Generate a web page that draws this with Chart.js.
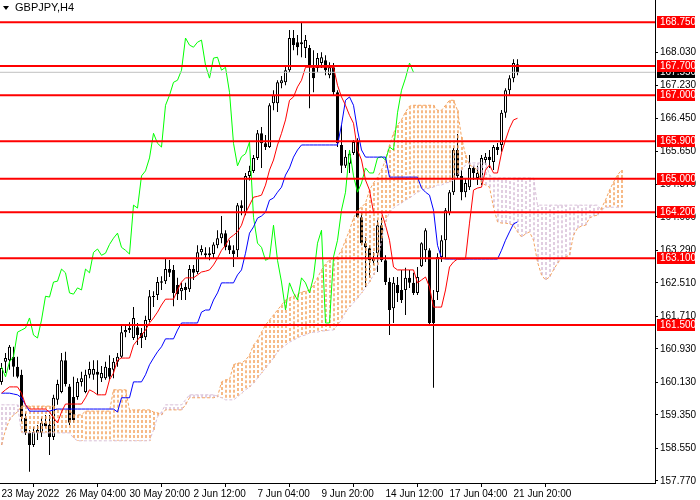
<!DOCTYPE html>
<html>
<head>
<meta charset="utf-8">
<script src="https://cdn.jsdelivr.net/npm/chart.js@4.4.1/dist/chart.umd.min.js"></script>
<style>
  html, body { margin: 0; padding: 0; background: #fff; }
  #wrap { width: 700px; height: 500px; }
</style>
</head>
<body>
<div id="wrap"><canvas id="chart" width="700" height="500"></canvas></div>
<script>
// GBPJPY H4 – candles + ichimoku

const symbolTitle = "GBPJPY,H4";

// one label every 16 bars
const xTickLabels = [
  "23 May 2022", "26 May 04:00", "30 May 20:00", "2 Jun 12:00", "7 Jun 04:00",
  "9 Jun 20:00", "14 Jun 12:00", "17 Jun 04:00", "21 Jun 20:00",
];
const yTickValues = [
  168.03, 167.23, 166.45, 165.65, 164.87, 164.09, 163.29,
  162.51, 161.71, 160.93, 160.13, 159.35, 158.55, 157.77,
];

const levels = [168.75, 167.7, 167.0, 165.9, 165.0, 164.2, 163.1, 161.5];
const bidPrice = 167.55;

const opens = [
  160.14, 160.62, 160.66, 160.74, 160.50, 160.31, 159.28, 158.92, 158.63, 158.92,
  158.92, 159.16, 159.11, 158.82, 159.71, 159.90, 160.66, 160.03, 159.78, 159.78,
  160.14, 159.90, 160.31, 160.31, 160.38, 160.23, 160.23, 160.47, 160.43, 160.62,
  160.74, 161.33, 161.38, 161.19, 161.45, 161.31, 161.21, 161.62, 162.19, 162.22,
  162.51, 162.55, 162.84, 162.82, 162.46, 162.31, 162.41, 162.36, 162.84, 162.77,
  163.24, 163.22, 163.17, 163.20, 163.41, 163.58, 163.70, 163.41, 163.29, 163.29,
  164.37, 164.20, 165.07, 165.19, 165.50, 166.09, 165.85, 165.76, 166.81, 166.81,
  167.29, 167.31, 167.60, 168.37, 168.27, 168.22, 168.13, 168.13, 167.65, 167.65,
  167.77, 167.84, 167.48, 167.67, 167.07, 165.81, 165.31, 165.36, 165.62, 165.88,
  164.08, 163.46, 163.34, 163.03, 163.22, 163.89, 163.05, 162.53, 161.90, 162.46,
  162.34, 162.34, 162.63, 162.51, 162.27, 162.91, 163.29, 163.29, 162.10, 162.29,
  163.13, 163.53, 164.18, 164.68, 165.69, 165.07, 164.68, 164.80, 165.26, 165.02,
  164.97, 165.45, 165.53, 165.40, 165.76, 165.81, 166.58, 167.12, 167.41, 167.74,
];
const highs = [
  160.59, 160.83, 161.02, 160.98, 160.74, 160.43, 159.40, 158.99, 159.06, 159.11,
  159.28, 159.35, 159.35, 159.83, 160.19, 160.83, 160.86, 160.09, 160.26, 160.23,
  160.38, 160.43, 160.62, 160.66, 160.66, 160.52, 160.62, 160.78, 160.71, 160.83,
  161.50, 161.50, 161.57, 161.93, 161.55, 161.43, 161.72, 162.34, 162.31, 162.65,
  162.67, 163.10, 163.06, 162.94, 162.63, 162.51, 162.51, 162.94, 162.94, 163.41,
  163.41, 163.36, 163.36, 163.48, 163.77, 164.11, 163.77, 163.53, 163.41, 164.42,
  164.49, 165.14, 165.31, 165.57, 166.17, 166.24, 166.05, 166.81, 167.12, 167.36,
  167.46, 167.70, 168.56, 168.56, 168.44, 168.73, 168.44, 168.20, 168.08, 168.01,
  168.03, 167.96, 167.79, 167.77, 167.12, 166.29, 165.69, 165.69, 165.93, 165.97,
  164.18, 163.60, 163.41, 163.24, 164.01, 164.08, 163.17, 162.63, 162.65, 162.65,
  162.82, 162.87, 162.82, 162.75, 162.89, 163.48, 163.82, 163.34, 162.34, 163.22,
  163.65, 164.30, 164.73, 165.74, 166.07, 165.21, 165.02, 165.57, 165.31, 165.31,
  165.57, 165.62, 165.69, 165.81, 165.86, 166.65, 167.17, 167.48, 167.86, 167.86,
];
const lows = [
  160.07, 160.35, 160.43, 160.26, 160.23, 159.18, 158.87, 157.99, 158.58, 158.75,
  158.82, 159.04, 158.39, 158.75, 159.59, 159.87, 160.03, 159.11, 159.16, 159.71,
  160.03, 159.87, 160.23, 160.19, 159.83, 160.14, 160.19, 160.19, 160.23, 160.50,
  160.71, 161.21, 161.31, 161.14, 161.02, 160.95, 161.14, 161.57, 161.93, 162.10,
  162.34, 162.48, 162.65, 161.95, 162.10, 162.10, 162.10, 162.29, 162.58, 162.72,
  163.17, 163.10, 163.05, 163.10, 163.34, 163.46, 163.29, 163.20, 162.89, 163.13,
  164.13, 164.13, 164.96, 165.14, 165.45, 165.26, 165.69, 165.74, 166.64, 166.60,
  167.17, 167.24, 167.55, 168.08, 167.96, 167.91, 167.89, 166.69, 167.07, 167.55,
  167.65, 167.48, 167.41, 167.00, 165.76, 165.14, 165.26, 165.14, 165.57, 164.06,
  163.41, 162.41, 162.63, 162.94, 162.77, 163.01, 162.46, 161.26, 161.55, 162.05,
  162.03, 161.74, 162.39, 162.22, 162.22, 162.89, 163.01, 161.50, 160.00, 162.10,
  163.01, 163.10, 164.13, 164.61, 165.02, 164.49, 164.56, 164.73, 164.97, 164.85,
  164.85, 165.33, 165.26, 165.21, 165.57, 165.65, 166.46, 167.00, 167.31, 167.48,
];
const closes = [
  160.47, 160.71, 160.98, 160.50, 160.26, 159.30, 158.92, 158.63, 158.94, 158.99,
  159.16, 159.08, 158.82, 159.76, 160.09, 160.66, 160.09, 159.16, 159.23, 160.14,
  160.23, 160.31, 160.45, 160.45, 160.31, 160.35, 160.50, 160.26, 160.62, 160.74,
  161.33, 161.38, 161.43, 161.67, 161.26, 161.19, 161.62, 162.19, 162.17, 162.53,
  162.55, 162.84, 162.75, 162.27, 162.24, 162.39, 162.34, 162.84, 162.75, 163.24,
  163.32, 163.17, 163.22, 163.43, 163.58, 163.70, 163.36, 163.29, 163.20, 164.37,
  164.30, 165.07, 165.19, 165.50, 166.09, 165.85, 165.76, 166.76, 167.00, 167.31,
  167.36, 167.60, 168.37, 168.20, 168.15, 168.27, 168.32, 167.72, 167.41, 167.89,
  167.91, 167.60, 167.67, 167.07, 165.85, 165.31, 165.53, 165.60, 165.88, 164.08,
  163.46, 163.36, 163.05, 163.10, 163.89, 163.05, 162.53, 161.86, 162.51, 162.27,
  162.10, 162.63, 162.51, 162.27, 162.65, 163.46, 163.77, 161.55, 161.55, 163.13,
  163.53, 164.25, 164.68, 165.69, 165.07, 164.68, 164.90, 165.26, 165.14, 165.14,
  165.50, 165.53, 165.45, 165.76, 165.69, 166.58, 167.12, 167.41, 167.77, 167.55,
];

const tenkan = [
  159.87, 159.95, 160.02, 160.02, 160.02, 159.87, 159.59, 159.49, 159.49, 159.49,
  159.49, 159.49, 159.42, 159.28, 159.16, 159.42, 159.61, 159.61, 159.61, 159.61,
  159.61, 159.76, 159.95, 159.90, 159.83, 159.83, 159.83, 160.19, 160.35, 160.66,
  160.71, 160.71, 160.71, 161.02, 161.14, 161.26, 161.38, 161.55, 161.67, 161.81,
  161.98, 162.12, 162.12, 162.12, 162.34, 162.53, 162.63, 162.63, 162.63, 162.70,
  162.77, 162.79, 162.82, 162.94, 163.10, 163.29, 163.41, 163.58, 163.65, 163.73,
  163.89, 164.18, 164.37, 164.56, 164.58, 164.61, 164.85, 165.21, 165.45, 165.81,
  166.09, 166.41, 166.88, 166.96, 167.20, 167.36, 167.67, 167.67, 167.67, 167.67,
  167.67, 167.67, 167.67, 167.67, 167.24, 166.96, 166.76, 166.52, 166.33, 165.69,
  165.45, 164.97, 164.73, 164.20, 164.20, 164.20, 163.89, 163.53, 162.89, 162.82,
  162.82, 162.82, 162.82, 162.82, 162.51, 162.58, 162.65, 162.41, 161.93, 161.93,
  161.93, 162.34, 162.89, 163.01, 163.08, 163.08, 163.08, 163.94, 164.73, 164.78,
  164.80, 165.21, 165.33, 165.14, 165.14, 165.62, 165.93, 166.21, 166.41, 166.45,
];
const kijun = [
  159.87, 159.87, 159.87, 159.85, 159.83, 159.76, 159.59, 159.44, 159.44, 159.44,
  159.44, 159.44, 159.44, 159.47, 159.49, 159.49, 159.49, 159.49, 159.49, 159.49,
  159.49, 159.49, 159.49, 159.49, 159.49, 159.49, 159.49, 159.49, 159.49, 159.42,
  159.76, 159.76, 159.76, 160.14, 160.14, 160.14, 160.31, 160.55, 160.71, 160.86,
  160.98, 161.17, 161.17, 161.17, 161.38, 161.55, 161.55, 161.55, 161.55, 161.55,
  161.81, 161.86, 161.86, 162.10, 162.27, 162.51, 162.51, 162.51, 162.51, 162.70,
  162.82, 163.22, 163.70, 163.85, 164.06, 164.11, 164.20, 164.49, 164.54, 164.68,
  164.80, 165.09, 165.26, 165.52, 165.69, 165.81, 165.81, 165.81, 165.81, 165.81,
  165.81, 165.81, 165.81, 165.81, 165.81, 166.29, 166.88, 166.96, 166.76, 166.17,
  165.69, 165.52, 165.52, 165.52, 165.52, 165.52, 165.52, 165.04, 165.04, 165.04,
  165.04, 165.04, 165.04, 165.04, 165.04, 164.78, 164.68, 164.61, 164.25, 163.41,
  163.10, 163.08, 163.08, 163.08, 163.08, 163.08, 163.08, 163.08, 163.08, 163.08,
  163.08, 163.08, 163.08, 163.08, 163.08, 163.29, 163.53, 163.73, 163.92, 163.97,
];
// senkou spans run 26 bars past the last candle
const spanA = [
  158.63, 158.99, 159.23, 159.35, 159.42, 159.56, 159.56, 159.56, 159.56, 159.56,
  159.56, 159.56, 159.56, 159.56, 159.47, 159.47, 159.47, 159.47, 159.35, 159.35,
  159.35, 159.44, 159.44, 159.44, 159.44, 159.44, 159.44, 159.44, 159.95, 159.95,
  159.95, 159.95, 159.47, 159.47, 159.47, 159.47, 159.47, 159.47, 159.42, 159.40,
  159.35, 159.47, 159.47, 159.47, 159.47, 159.47, 159.59, 159.76, 159.76, 159.76,
  159.76, 159.76, 159.76, 159.76, 159.78, 160.14, 160.19, 160.19, 160.55, 160.59,
  160.59, 160.66, 160.78, 161.02, 161.14, 161.33, 161.50, 161.62, 161.74, 161.86,
  161.98, 162.10, 162.15, 162.19, 162.24, 162.29, 162.31, 162.34, 162.46, 162.63,
  162.82, 162.96, 163.06, 163.10, 163.13, 163.29, 163.53, 163.77, 164.06, 164.25,
  164.32, 164.42, 164.73, 164.90, 165.04, 165.21, 165.45, 165.81, 166.09, 166.29,
  166.41, 166.60, 166.74, 166.76, 166.76, 166.76, 166.76, 166.76, 166.76, 166.64,
  166.64, 166.76, 166.88, 166.88, 166.64, 166.00, 165.57, 165.33, 165.28, 165.21,
  164.90, 164.85, 164.80, 164.32, 163.97, 163.94, 163.94, 163.92, 163.89, 163.73,
  163.61, 163.68, 163.73, 163.53, 163.01, 162.70, 162.58, 162.65, 162.82, 162.98,
  163.10, 163.13, 163.17, 163.65, 163.82, 163.87, 163.89, 164.06, 164.11, 164.13,
  164.30, 164.49, 164.73, 164.92, 165.09, 165.21,
];
const spanB = [
  159.59, 159.59, 159.59, 159.59, 159.59, 158.92, 158.92, 158.92, 158.92, 158.92,
  158.92, 158.92, 158.92, 158.92, 158.92, 158.92, 158.92, 158.92, 158.80, 158.73,
  158.73, 158.73, 158.73, 158.73, 158.73, 158.73, 158.73, 158.73, 158.73, 158.73,
  158.73, 158.73, 158.73, 158.73, 158.73, 158.73, 158.73, 158.73, 158.99, 159.30,
  159.42, 159.59, 159.59, 159.59, 159.59, 159.59, 159.71, 159.83, 159.83, 159.83,
  159.83, 159.83, 159.83, 159.83, 159.80, 159.76, 159.71, 159.71, 159.71, 159.78,
  159.87, 159.95, 160.02, 160.11, 160.23, 160.35, 160.47, 160.59, 160.71, 160.86,
  160.95, 161.02, 161.09, 161.14, 161.19, 161.24, 161.26, 161.31, 161.33, 161.33,
  161.36, 161.36, 161.38, 161.38, 161.50, 161.62, 161.81, 161.93, 162.03, 162.15,
  162.27, 162.39, 162.53, 162.70, 162.94, 163.53, 163.97, 164.20, 164.30, 164.37,
  164.42, 164.49, 164.54, 164.61, 164.68, 164.73, 164.76, 164.78, 164.80, 164.85,
  164.85, 164.90, 164.92, 164.97, 165.09, 165.21, 165.33, 165.38, 165.38, 165.38,
  165.38, 165.38, 165.09, 165.02, 165.02, 165.02, 165.02, 165.02, 165.02, 165.02,
  165.02, 165.02, 165.02, 165.02, 164.37, 164.37, 164.37, 164.37, 164.37, 164.37,
  164.37, 164.37, 164.37, 164.37, 164.37, 164.37, 164.37, 164.37, 164.37, 164.37,
  164.25, 164.32, 164.32, 164.32, 164.32, 164.32,
];
const chikouShift = 26;

const FONT_FAMILY = '"Liberation Sans", Arial, sans-serif';
const ORANGE = "#f4a460";
const PLUM = "#d8bfd8";
const X_MIN = -0.375;
const X_MAX = 163.375;
// nudge the hatch strokes half a pixel so they straddle two columns
const HATCH_SHIFT = 0.125;

const pts = (arr, off = 0) => arr.map((v, i) => ({ x: i + off, y: v }));
const flat = (v) => [{ x: X_MIN, y: v }, { x: X_MAX, y: v }];

const wickData = highs.map((h, i) => ({ x: i, y: [lows[i], h] }));
const bodyData = opens.map((o, i) => ({ x: i, y: [o, closes[i]] }));
const chikouData = pts(closes.slice(chikouShift));

// kumo hatching: one dotted vertical stroke per bar, between span A and span B
const hatch = (bullish) =>
  spanA.flatMap((a, i) => {
    const b = spanB[i];
    if ((a >= b) !== bullish) return [];
    const x = i + HATCH_SHIFT;
    return [{ x, y: a }, { x, y: b }, { x, y: null }];
  });

const lineDs = (label, data, color, order, dash, width = 1) => ({
  type: "line",
  label,
  data,
  borderColor: color,
  borderWidth: width,
  borderDash: dash || [],
  pointRadius: 0,
  tension: 0,
  fill: false,
  spanGaps: false,
  order,
});

const datasets = [
  {
    label: "wicks",
    data: wickData,
    backgroundColor: "#000",
    barThickness: 1,
    inflateAmount: 0,
    grouped: false,
    order: 12,
  },
  {
    label: "bodies",
    data: bodyData,
    backgroundColor: (c) =>
      closes[c.dataIndex] >= opens[c.dataIndex] ? "#fff" : "#000",
    borderColor: "#000",
    borderWidth: 1,
    borderSkipped: false,
    barThickness: 3,
    minBarLength: 1,
    inflateAmount: 0,
    grouped: false,
    order: 11,
  },
  lineDs("kumo up", hatch(true), ORANGE, 9, [3, 2], 1.5),
  lineDs("kumo down", hatch(false), PLUM, 8, [3, 2], 1.5),
  lineDs("Senkou A", pts(spanA), ORANGE, 7, [3, 2]),
  lineDs("Senkou B", pts(spanB), PLUM, 6, [3, 2]),
  lineDs("Chikou", chikouData, "#00ff00", 5),
  lineDs("Kijun", pts(kijun), "#0000ff", 4),
  lineDs("Tenkan", pts(tenkan), "#ff0000", 3),
  lineDs("bid", flat(bidPrice), "#c0c0c0", 2),
  ...levels.map((v) => lineDs("lvl " + v, flat(v), "#ff0000", 1, [], 2)),
];

// axis price tags + symbol caption
const overlay = {
  id: "overlay",
  afterDraw(chart) {
    const { ctx: g, chartArea, scales } = chart;
    const y = scales.y;
    g.save();
    g.textBaseline = "middle";

    g.fillStyle = "#000";
    g.beginPath();
    g.moveTo(3, 6);
    g.lineTo(9, 6);
    g.lineTo(6, 10);
    g.closePath();
    g.fill();
    g.font = "11px " + FONT_FAMILY;
    g.fillText(symbolTitle, 15, 8);
    g.font = "10px " + FONT_FAMILY;

    const tag = (v, bg) => {
      const py = Math.round(y.getPixelForValue(v));
      g.fillStyle = bg;
      g.fillRect(chartArea.right + 2, py - 6, 38, 12);
      g.fillStyle = "#fff";
      g.fillText(v.toFixed(3), chartArea.right + 5, py + 0.5);
    };
    tag(bidPrice, "#000");
    levels.forEach((v) => tag(v, "#ff0000"));
    g.restore();
  },
};

new Chart(document.getElementById("chart"), {
  type: "bar",
  data: { datasets },
  plugins: [overlay],
  options: {
    responsive: false,
    animation: false,
    layout: { padding: 0 },
    plugins: { legend: { display: false }, tooltip: { enabled: false } },
    scales: {
      x: {
        type: "linear",
        min: X_MIN,
        max: X_MAX,
        offset: false,
        border: { display: true, color: "#000" },
        grid: { drawOnChartArea: false, tickLength: 4, tickColor: "#000" },
        afterBuildTicks: (s) => {
          s.ticks = xTickLabels.map((_, k) => ({ value: k * 16 }));
        },
        afterFit: (s) => {
          s.height = 17;
          s.paddingLeft = 0;
          s.paddingRight = 0;
        },
        ticks: {
          autoSkip: false,
          maxRotation: 0,
          align: "start",
          padding: 1,
          color: "#000",
          font: { family: FONT_FAMILY, size: 10 },
          callback: (v, i) => xTickLabels[i],
        },
      },
      y: {
        position: "right",
        min: 157.72,
        max: 169.28,
        border: { display: true, color: "#000" },
        grid: { drawOnChartArea: false, tickLength: 3, tickColor: "#000" },
        afterBuildTicks: (s) => {
          s.ticks = yTickValues.map((v) => ({ value: v }));
        },
        afterFit: (s) => {
          s.width = 45;
          s.paddingTop = 0;
          s.paddingBottom = 0;
        },
        ticks: {
          autoSkip: false,
          padding: 2,
          color: "#000",
          font: { family: FONT_FAMILY, size: 10 },
          callback: (v) => v.toFixed(3),
        },
      },
    },
  },
});
</script>
</body>
</html>
